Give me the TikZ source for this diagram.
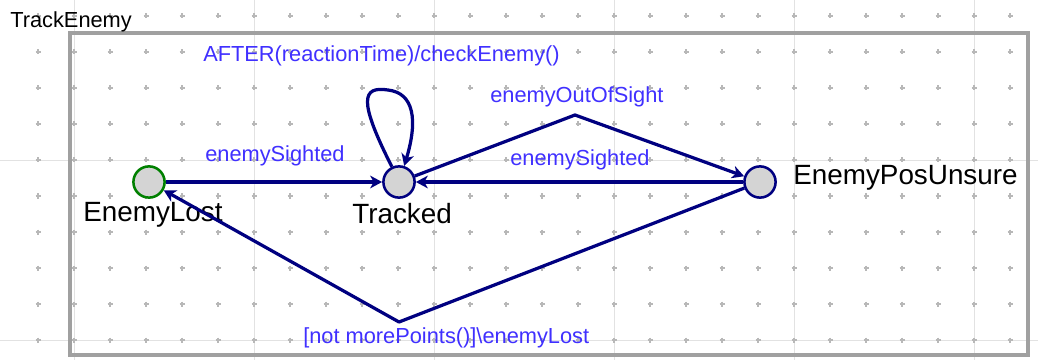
\documentclass[tikz,border=0pt]{standalone}
\usepackage{fontspec}
\setmainfont{Liberation Sans}
\usetikzlibrary{arrows.meta,positioning}
\definecolor{statenavy}{RGB}{0,0,128}
\definecolor{stategreen}{RGB}{0,128,0}
\definecolor{stategray}{RGB}{212,212,212}
\definecolor{trigblue}{RGB}{64,48,255}
\definecolor{gridgray}{RGB}{184,184,184}
\definecolor{linegray}{RGB}{226,226,226}
\definecolor{framegray}{RGB}{160,160,160}

\begin{document}
\begin{tikzpicture}[x=0.025cm,y=-0.025cm,
	statenode/.style={draw=statenavy,fill=stategray,circle,line width=1.8pt,minimum size=0.78cm,inner sep=0pt},
	startnode/.style={statenode,draw=stategreen},
	statename/.style={font=\fontsize{19.8}{22}\selectfont,anchor=base west,inner sep=0pt},
	triglabel/.style={text=trigblue,font=\fontsize{15.5}{18}\selectfont,anchor=base west,inner sep=0pt},
	trans/.style={draw=statenavy,line width=2.3pt,line join=round,-{Stealth[length=8.5pt,width=9pt,inset=2.5pt]}},
	]
	\useasboundingbox (0,0) rectangle (1038,360);
	
	% the grid behind the chart
	\fill[white] (0,0) rectangle (1038,360);
	\foreach \x in {74,254,...,974}
	\draw[linegray,line width=0.7pt] (\x,0) -- (\x,360);
	\foreach \y in {160,340}
	\draw[linegray,line width=0.7pt] (0,\y) -- (1038,\y);
	\foreach \x in {38,74,...,1010}
	\foreach \y in {16,52,...,340}
	\draw[gridgray,line width=0.8pt] (\x-2.5,\y) -- (\x+2.5,\y) (\x,\y-2.5) -- (\x,\y+2.5);
	
	% the chart frame
	\draw[framegray,line width=2.2pt] (70,33) rectangle (1028,355);
	\node[triglabel,text=black] (title) at (10,28) {TrackEnemy};
	
	% states
	\node[startnode] (EnemyLost) at (149,182) {};
	\node[statenode] (Tracked) at (399,182) {};
	\node[statenode] (EnemyPosUnsure) at (760,182) {};
	
	\node[statename] (lostname) at (83,221) {EnemyLost};
	\node[statename] (trackedname) at (352,223) {Tracked};
	\node[statename] (unsurename) at (793,185) {EnemyPosUnsure};
	
	% bend points
	\coordinate (outbend) at (575,115);
	\coordinate (lostbend) at (399,322);
	
	% transitions
	\draw[trans] (EnemyLost) -- (Tracked);
	\draw[trans] (EnemyPosUnsure) -- (Tracked);
	\draw[trans] (Tracked) -- (outbend) -- (EnemyPosUnsure);
	\draw[trans] (EnemyPosUnsure) -- (lostbend) -- (EnemyLost);
	\draw[trans] (Tracked.115) .. controls (358,100) and (362,86) .. (388,90)
	.. controls (414,93) and (418,120) .. (Tracked.72);
	
	% triggers
	\node[triglabel] (afterlabel) at (203,62) {AFTER(reactionTime)/checkEnemy()};
	\node[triglabel] (sightedleft) at (205,162) {enemySighted};
	\node[triglabel] (sightedright) at (510,166) {enemySighted};
	\node[triglabel] (outlabel) at (490,103) {enemyOutOfSight};
	\node[triglabel] (lostlabel) at (303,343) {[not morePoints()]\textbackslash enemyLost};
	
\end{tikzpicture}
\end{document}
